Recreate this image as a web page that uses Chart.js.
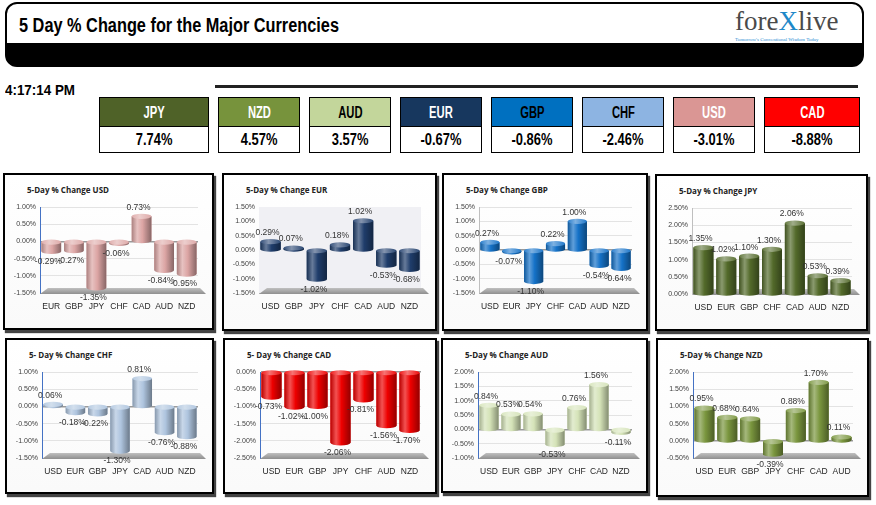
<!DOCTYPE html>
<html><head><meta charset="utf-8">
<script src="https://cdn.jsdelivr.net/npm/chart.js@4.4.1/dist/chart.umd.min.js"></script>
<style>
body{margin:0;width:876px;height:505px;background:#fff;position:relative;overflow:hidden;font-family:"Liberation Sans",Arial,sans-serif}
.narrow{font-family:"Liberation Sans",Arial,sans-serif;font-weight:bold}
.sq{display:inline-block;transform-origin:center center;white-space:nowrap}
#header{position:absolute;left:5px;top:2px;width:855px;height:61px;border:2px solid #000;border-radius:12px;overflow:hidden;background:linear-gradient(#fff 0,#fff 39px,#000 39px)}
#title{position:absolute;left:12px;top:11px;font-size:20px;line-height:20px;color:#000;white-space:nowrap}
#title .sq{transform-origin:left center}
#logo{position:absolute;left:728px;top:2px;font-family:"Liberation Serif",serif;font-size:27px;color:#4a4a4a;white-space:nowrap}
#logo .x{color:#1e88c8}
#tag{position:absolute;left:728px;top:33px;font-family:"Liberation Serif",serif;font-size:5px;color:#2a8dd4;white-space:nowrap}
#time{position:absolute;left:5px;top:82px;font-size:14px;line-height:16px}
#time .sq{transform-origin:left center}
#rule{position:absolute;left:215px;top:85px;width:643px;height:3px;background:#222}
.tile{position:absolute;top:97px;height:54px;border:1px solid #000;background:#fff}
.tile .h{height:28px;line-height:29px;text-align:center;font-size:16px;border-bottom:1px solid #000}
.tile .v{height:25px;line-height:26px;text-align:center;font-size:17px;color:#000}
.panel{position:absolute;border:2px solid #000;box-shadow:2px 3px 1px #444;background:linear-gradient(#fff,#fafafa)}
.panel .pt{position:absolute;left:22px;top:9px;font-size:8px;font-weight:bold;color:#222;white-space:nowrap;font-family:"Open Sans","Liberation Sans",sans-serif}
.panel .cw{position:absolute;left:0;top:0;right:0;bottom:0}
</style></head>
<body>
<div id="header"><div id="title" class="narrow"><span class="sq" data-w="320">5 Day % Change for the Major Currencies</span></div>
<div id="logo">fore<span class="x">X</span>live</div>
<div id="tag">Tomorrow's Conventional Wisdom Today</div></div>
<div id="time" class="narrow"><span class="sq" data-w="70">4:17:14 PM</span></div>
<div id="rule"></div>
<script>
// ---------- DATA ----------
const tileCurrencies = ["JPY","NZD","AUD","EUR","GBP","CHF","USD","CAD"];
const tileValues = [7.74, 4.57, 3.57, -0.67, -0.86, -2.46, -3.01, -8.88];

const usdCats = ["EUR","GBP","JPY","CHF","CAD","AUD","NZD"];
const usdVals = [-0.29, -0.27, -1.35, -0.06, 0.73, -0.84, -0.95];
const usdRange = [-1.5, 1.0];

const eurCats = ["USD","GBP","JPY","CHF","CAD","AUD","NZD"];
const eurVals = [0.29, 0.07, -1.02, 0.18, 1.02, -0.53, -0.68];
const eurRange = [-1.5, 1.5];

const gbpCats = ["USD","EUR","JPY","CHF","CAD","AUD","NZD"];
const gbpVals = [0.27, -0.07, -1.10, 0.22, 1.00, -0.54, -0.64];
const gbpRange = [-1.5, 1.5];

const jpyCats = ["USD","EUR","GBP","CHF","CAD","AUD","NZD"];
const jpyVals = [1.35, 1.02, 1.10, 1.30, 2.06, 0.53, 0.39];
const jpyRange = [0, 2.5];

const chfCats = ["USD","EUR","GBP","JPY","CAD","AUD","NZD"];
const chfVals = [0.06, -0.18, -0.22, -1.30, 0.81, -0.76, -0.88];
const chfRange = [-1.5, 1.0];

const cadCats = ["USD","EUR","GBP","JPY","CHF","AUD","NZD"];
const cadVals = [-0.73, -1.02, -1.00, -2.06, -0.81, -1.56, -1.70];
const cadRange = [-2.5, 0];

const audCats = ["USD","EUR","GBP","JPY","CHF","CAD","NZD"];
const audVals = [0.84, 0.53, 0.54, -0.53, 0.76, 1.56, -0.11];
const audRange = [-1.0, 2.0];

const nzdCats = ["USD","EUR","GBP","JPY","CHF","CAD","AUD"];
const nzdVals = [0.95, 0.68, 0.64, -0.39, 0.88, 1.70, 0.11];
const nzdRange = [-0.5, 2.0];

// ---------- STYLE / LAYOUT ----------
const tileStyle = {
  JPY:{bg:"#4f6228",fg:"#fff",x:99,w:108}, NZD:{bg:"#77933c",fg:"#fff",x:218,w:80},
  AUD:{bg:"#c3d69b",fg:"#000",x:309,w:80}, EUR:{bg:"#17375e",fg:"#fff",x:400,w:80},
  GBP:{bg:"#0070c0",fg:"#000",x:491,w:80}, CHF:{bg:"#8db4e2",fg:"#000",x:582,w:80},
  USD:{bg:"#da9694",fg:"#fff",x:673,w:80}, CAD:{bg:"#ff0000",fg:"#fff",x:764,w:94}
};
tileCurrencies.forEach((c,i)=>{
  const s = tileStyle[c];
  const d = document.createElement('div');
  d.className='tile narrow';
  d.style.left=s.x+'px'; d.style.width=s.w+'px';
  d.innerHTML = '<div class="h" style="background:'+s.bg+';color:'+s.fg+'"><span class="sq" data-s="0.7">'+c+'</span></div><div class="v"><span class="sq" data-s="0.76">'+tileValues[i].toFixed(2)+'%</span></div>';
  document.body.appendChild(d);
});
document.querySelectorAll('.sq').forEach(el=>{
  let s = el.dataset.s ? parseFloat(el.dataset.s) : parseFloat(el.dataset.w)/el.getBoundingClientRect().width;
  el.style.transform='scaleX('+s+')';
});

const panels = [
  {t:"5-Day % Change USD", cats:usdCats, vals:usdVals, r:usdRange, color:"#dca5a4", axis:"#4472c4", x:3, y:173, w:211, h:157, bg:null},
  {t:"5-Day % Change EUR", cats:eurCats, vals:eurVals, r:eurRange, color:"#1f3d6b", axis:"#bfbfbf", x:222, y:173, w:215, h:158, bg:"#f0f0f4"},
  {t:"5-Day % Change GBP", cats:gbpCats, vals:gbpVals, r:gbpRange, color:"#1572c8", axis:"#bfbfbf", x:442, y:173, w:206, h:158, bg:null},
  {t:"5-Day % Change JPY", cats:jpyCats, vals:jpyVals, r:jpyRange, color:"#536a2a", axis:"#bfbfbf", x:655, y:174, w:213, h:157, bg:null},
  {t:"5- Day % Change CHF", cats:chfCats, vals:chfVals, r:chfRange, color:"#aec4de", axis:"#4472c4", x:5, y:338, w:209, h:156, bg:null},
  {t:"5- Day % Change CAD", cats:cadCats, vals:cadVals, r:cadRange, color:"#ee0000", axis:"#4472c4", x:223, y:338, w:214, h:156, bg:null},
  {t:"5-Day % Change AUD", cats:audCats, vals:audVals, r:audRange, color:"#d5e3b8", axis:"#4472c4", x:441, y:338, w:207, h:155, bg:null},
  {t:"5-Day % Change NZD", cats:nzdCats, vals:nzdVals, r:nzdRange, color:"#7a963e", axis:"#4472c4", x:656, y:338, w:213, h:159, bg:null}
];

function hexToRgb(h){const n=parseInt(h.slice(1),16);return [(n>>16)&255,(n>>8)&255,n&255];}
function shade(h,a){const c=hexToRgb(h);const t=a>0?255:0;const k=Math.abs(a);
  return 'rgb('+c.map(v=>Math.round(v+(t-v)*k)).join(',')+')';}

const cylPlugin = {
  id:'cyl',
  beforeDatasetsDraw(chart){
    const ctx=chart.ctx, a=chart.chartArea, o=chart.options.plugins.cyl;
    ctx.save();
    if(o.bg){ctx.fillStyle=o.bg;ctx.fillRect(a.left,a.top,a.right-a.left,a.bottom-a.top);}
    const g=ctx.createLinearGradient(0,a.bottom-6,0,a.bottom+1);
    g.addColorStop(0,'#c8c8c8');g.addColorStop(1,'#8f8f8f');
    ctx.fillStyle=g;ctx.beginPath();
    ctx.moveTo(a.left,a.bottom+1);ctx.lineTo(a.left+8,a.bottom-5);
    ctx.lineTo(a.right+2,a.bottom-5);ctx.lineTo(a.right+8,a.bottom+1);ctx.closePath();ctx.fill();
    ctx.restore();
  },
  afterDatasetsDraw(chart){
    const ctx=chart.ctx, o=chart.options.plugins.cyl, col=o.color;
    const meta=chart.getDatasetMeta(0), vals=chart.data.datasets[0].data;
    ctx.save();
    meta.data.forEach((el,i)=>{
      const p=el.getProps(['x','y','base','width'],true);
      const hw=p.width/2, l=p.x-hw, r=p.x+hw;
      const top=Math.min(p.y,p.base), bot=Math.max(p.y,p.base), ry=2.6;
      const g=ctx.createLinearGradient(l,0,r,0);
      g.addColorStop(0,shade(col,-0.22));g.addColorStop(0.28,shade(col,0.32));
      g.addColorStop(0.55,col);g.addColorStop(1,shade(col,-0.38));
      ctx.fillStyle=g;ctx.beginPath();
      ctx.moveTo(l,top);ctx.lineTo(l,bot);
      ctx.ellipse(p.x,bot,hw,ry,0,Math.PI,0,true);
      ctx.lineTo(r,top);ctx.closePath();ctx.fill();
      const g2=ctx.createLinearGradient(l,0,r,0);
      g2.addColorStop(0,shade(col,0.1));g2.addColorStop(0.4,shade(col,0.45));g2.addColorStop(1,shade(col,0.05));
      ctx.fillStyle=g2;ctx.beginPath();ctx.ellipse(p.x,top,hw,ry,0,0,Math.PI*2);ctx.fill();
    });
    ctx.font='8.5px "Liberation Sans", Arial, sans-serif';
    ctx.fillStyle='#333';ctx.textAlign='center';ctx.textBaseline='middle';
    meta.data.forEach((el,i)=>{
      const p=el.getProps(['x','y'],true), v=vals[i];
      ctx.fillText(v.toFixed(2)+'%', p.x-3, v>=0 ? p.y-9 : p.y+10);
    });
    ctx.restore();
  }
};

panels.forEach(P=>{
  const d=document.createElement('div');
  d.className='panel';
  d.style.left=P.x+'px';d.style.top=P.y+'px';d.style.width=(P.w-4)+'px';d.style.height=(P.h-4)+'px';
  d.innerHTML='<div class="pt">'+P.t+'</div><div class="cw"><canvas></canvas></div>';
  document.body.appendChild(d);
  const cv=d.querySelector('canvas');
  new Chart(cv,{
    type:'bar',
    data:{labels:P.cats,datasets:[{data:P.vals,backgroundColor:P.color,barPercentage:0.92,categoryPercentage:0.95}]},
    plugins:[cylPlugin],
    options:{
      responsive:true,maintainAspectRatio:false,animation:false,
      layout:{padding:{top:32,right:14,left:0,bottom:0}},
      plugins:{legend:{display:false},tooltip:{enabled:false},title:{display:false},
        cyl:{color:P.color,bg:P.bg}},
      scales:{
        x:{grid:{display:false,drawTicks:false},border:{display:false},
           ticks:{padding:9,color:'#262626',font:{size:8.5,family:'"Liberation Sans", Arial, sans-serif'},maxRotation:0,autoSkip:false},
           afterFit(s){s.height=s.chart.height-118;}},
        y:{min:P.r[0],max:P.r[1],
           grid:{drawTicks:false,color:c=>c.tick&&c.tick.value===0?'#9a9a9a':'#e3e3e3',lineWidth:c=>c.tick&&c.tick.value===0?1.5:1},
           border:{display:true,color:P.axis,width:1},
           ticks:{stepSize:0.5,padding:4,color:'#404040',font:{size:7,family:'"Liberation Sans", Arial, sans-serif'},
             callback:v=>v.toFixed(2)+'%'},
           afterFit(s){s.width=35;}}
      }
    }
  });
});
</script>
</body></html>
